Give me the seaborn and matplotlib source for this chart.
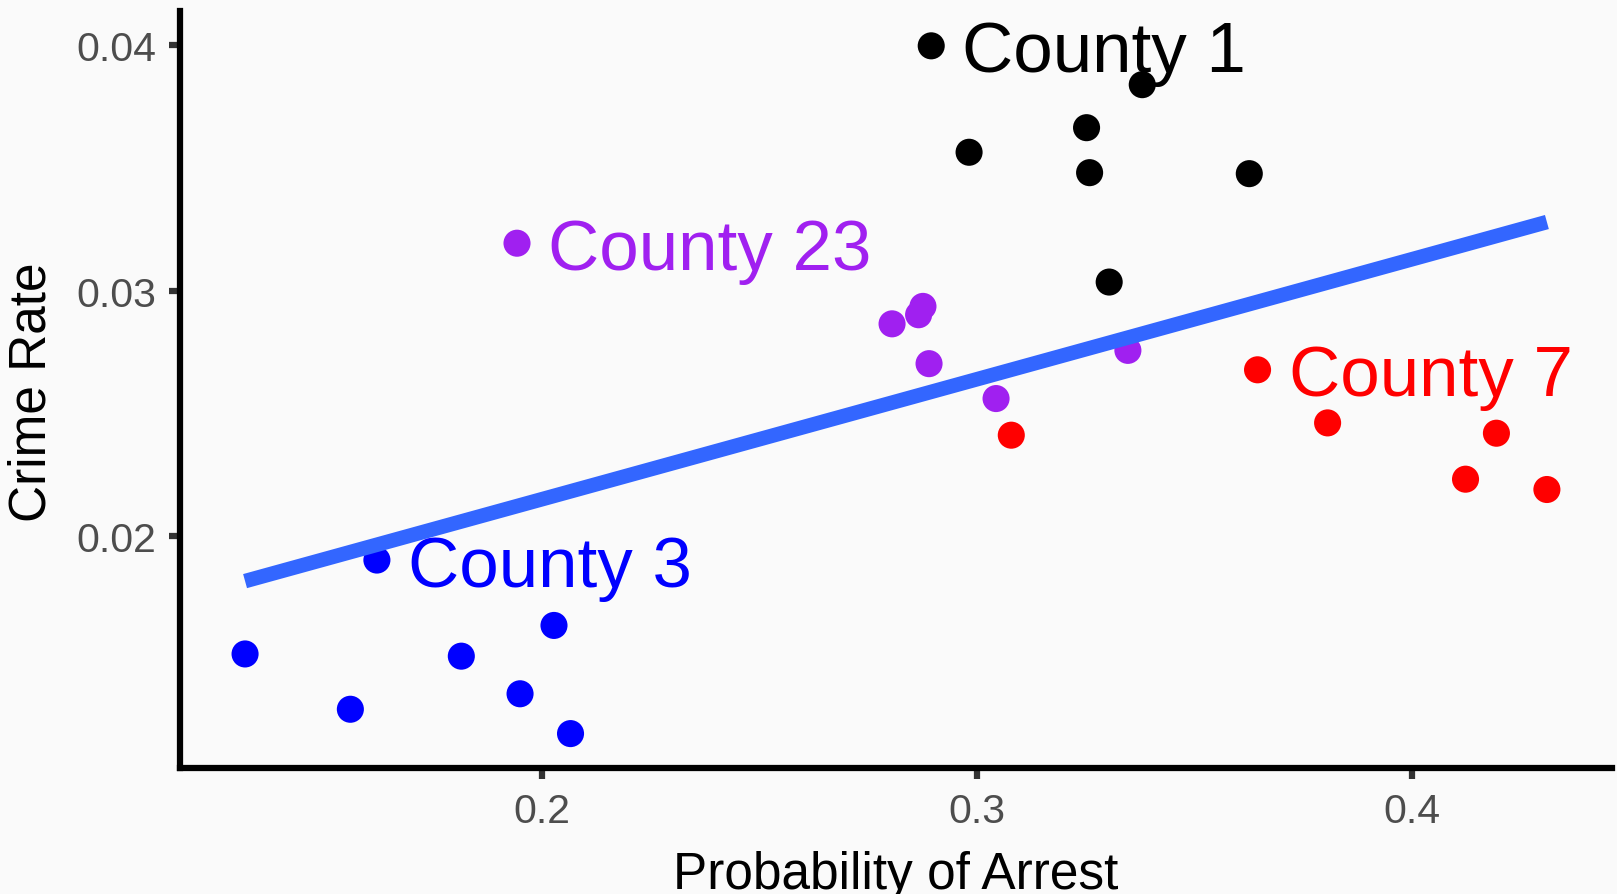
import pandas as pd
import numpy as np
import seaborn as sns
import matplotlib.pyplot as plt

# County panel data (probability of arrest vs crime rate)
county_names = ['County 1', 'County 23', 'County 7', 'County 3']
county_colors = ['#000000', '#A020F0', '#FF0000', '#0000FF']

c1_prbarr = [0.2895, 0.3380, 0.3252, 0.2982, 0.3259, 0.3626, 0.3304]
c1_crmrte = [0.03996, 0.03838, 0.03663, 0.03563, 0.03480, 0.03476, 0.03035]

c23_prbarr = [0.1943, 0.2805, 0.2876, 0.2866, 0.2890, 0.3044, 0.3347]
c23_crmrte = [0.03193, 0.02865, 0.02936, 0.02902, 0.02703, 0.02561, 0.02757]

c7_prbarr = [0.3645, 0.3079, 0.3806, 0.4194, 0.4123, 0.4310]
c7_crmrte = [0.02678, 0.02412, 0.02462, 0.02420, 0.02233, 0.02191]

c3_prbarr = [0.1621, 0.1318, 0.2028, 0.1815, 0.1560, 0.1950, 0.2066]
c3_crmrte = [0.01904, 0.01522, 0.01638, 0.01513, 0.01297, 0.01360, 0.01198]

x_ticks = [0.2, 0.3, 0.4]
y_ticks = [0.02, 0.03, 0.04]

###########################################################################

frames = []
for name, xs, ys in zip(county_names,
                        [c1_prbarr, c23_prbarr, c7_prbarr, c3_prbarr],
                        [c1_crmrte, c23_crmrte, c7_crmrte, c3_crmrte]):
    frames.append(pd.DataFrame({'county': name, 'prbarr': xs, 'crmrte': ys}))
crime = pd.concat(frames, ignore_index=True)

palette = dict(zip(county_names, county_colors))

sns.set_style('ticks')
plt.rcParams['font.family'] = ['Liberation Sans', 'DejaVu Sans']

bg = '#FAFAFA'
fig = plt.figure(figsize=(16.17, 8.95), dpi=100, facecolor=bg)
ax = fig.add_axes([0.1113, 0.1408, 0.9969 - 0.1113, 0.9861 - 0.1408])
ax.set_facecolor(bg)

sns.scatterplot(data=crime, x='prbarr', y='crmrte', hue='county', palette=palette,
                s=380, linewidth=0, legend=False, ax=ax, zorder=2)
sns.regplot(data=crime, x='prbarr', y='crmrte', scatter=False, ci=None,
            color='#3366FF', line_kws={'linewidth': 10.5, 'solid_capstyle': 'butt', 'zorder': 3}, ax=ax)

# label the first county-year in each group
for name in county_names:
    first = crime[crime['county'] == name].iloc[0]
    ax.annotate(name, (first['prbarr'], first['crmrte']), xytext=(22.5, 0),
                textcoords='offset points', ha='left', va='center_baseline',
                fontsize=51, color=palette[name], zorder=4)

ax.set_xticks(x_ticks)
ax.set_xticklabels([f'{t:g}' for t in x_ticks])
ax.set_yticks(y_ticks)
ax.set_yticklabels([f'{t:g}' for t in y_ticks])
ax.tick_params(axis='both', length=8, width=4.5, color='#333333',
               labelcolor='#4D4D4D', labelsize=29.5, pad=9)

for side in ['top', 'right']:
    ax.spines[side].set_visible(False)
for side in ['left', 'bottom']:
    ax.spines[side].set_linewidth(4.5)
    ax.spines[side].set_color('black')

ax.set_xlabel('')
ax.set_ylabel('')
fig.text(896 / 1617, 1 - 889 / 895, 'Probability of Arrest', ha='center', va='baseline',
         fontsize=37, color='black')
fig.text(32 / 1617, 1 - 392 / 895, 'Crime Rate', ha='center', va='center', rotation=90,
         fontsize=37, color='black')

plt.savefig('out.png', dpi=100, facecolor=bg)
